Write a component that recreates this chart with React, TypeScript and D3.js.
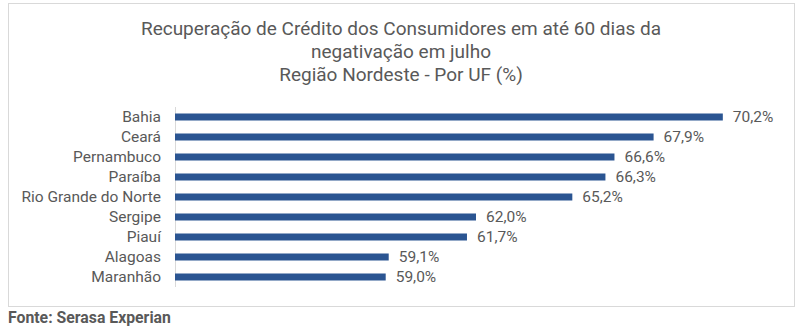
import React from "react";
import * as d3 from "d3";

const categories = ["Bahia", "Ceará", "Pernambuco", "Paraíba", "Rio Grande do Norte", "Sergipe", "Piauí", "Alagoas", "Maranhão"];
const values = [70.2, 67.9, 66.6, 66.3, 65.2, 62.0, 61.7, 59.1, 59.0];
const titleLines = [
  "Recuperação de Crédito dos Consumidores em até 60 dias da",
  "negativação em julho",
  "Região Nordeste - Por UF (%)",
];
const xDomain = [52, 72];
const sourceText = "Fonte: Serasa Experian";

export default function App() {
  const W = 800, H = 328;
  const x = d3.scaleLinear().domain(xDomain).range([175, 777]);
  const y = d3.scaleBand<string>().domain(categories).range([107, 287]).paddingInner(0.65).paddingOuter(0.325);
  const font = "Roboto, 'Liberation Sans', sans-serif";
  const gray = "#595959";
  const fmt = (v: number) => v.toFixed(1).replace(".", ",") + "%";
  return (
    <svg width={W} height={H} style={{ position: "absolute", left: 0, top: 0, background: "#fff" }} fontFamily={font}>
      <rect x={8.5} y={3.5} width={786} height={303} fill="#fff" stroke="#d9d9d9" strokeWidth={1} />
      {titleLines.map((t, i) => (
        <text key={i} x={401} y={35 + i * 23} textAnchor="middle" fontSize={19} fill={gray}>{t}</text>
      ))}
      <line x1={175.5} x2={175.5} y1={107} y2={287} stroke="#d9d9d9" strokeWidth={1} />
      {categories.map((c, i) => {
        const yy = y(c)!;
        const bh = y.bandwidth();
        const cy = yy + bh / 2;
        return (
          <g key={c}>
            <rect x={x(xDomain[0])} y={yy} width={x(values[i]) - x(xDomain[0])} height={bh} fill="#2b5592" />
            <text x={161} y={cy} dy="0.35em" textAnchor="end" fontSize={15.5} fill={gray}>{c}</text>
            <text x={x(values[i]) + 10} y={cy} dy="0.35em" fontSize={15.5} fill={gray}>{fmt(values[i])}</text>
          </g>
        );
      })}
      <text x={8} y={323} fontSize={15.8} fontWeight="bold" fill={gray}>{sourceText}</text>
    </svg>
  );
}
